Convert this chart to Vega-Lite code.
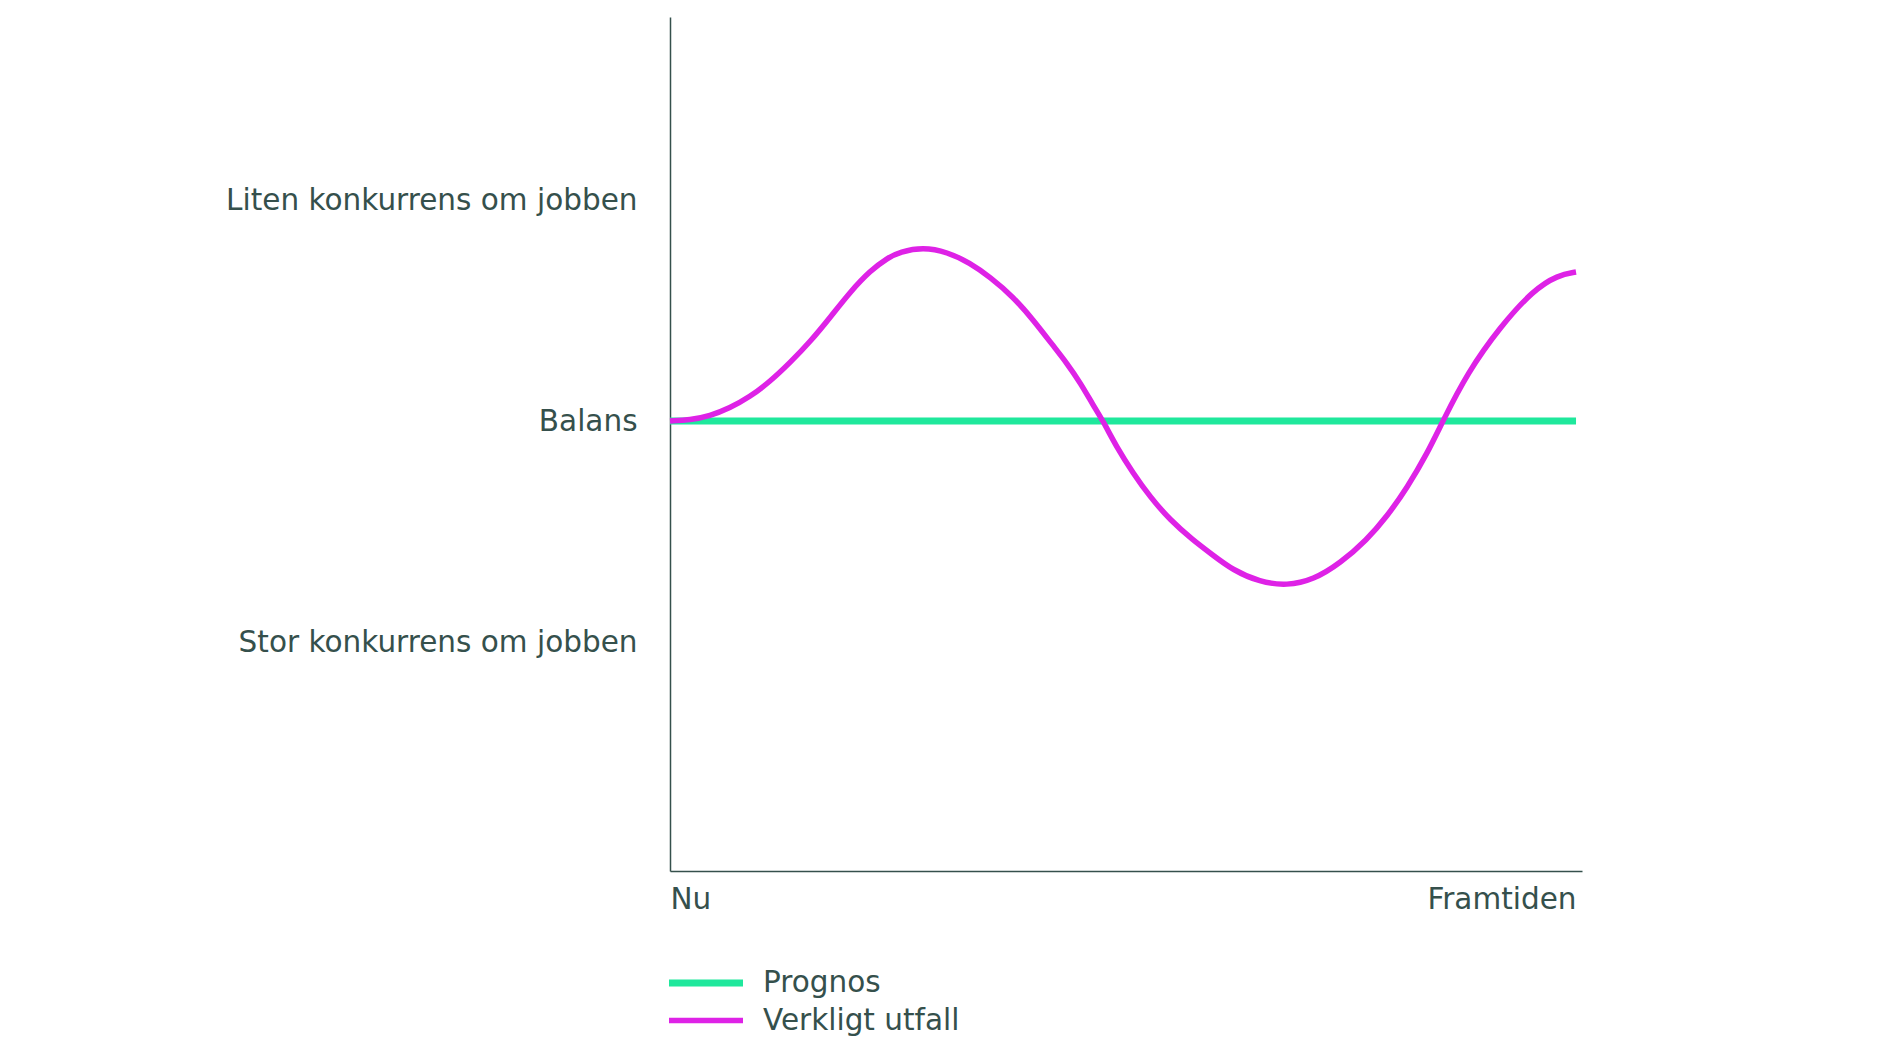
{
  "$schema": "https://vega.github.io/schema/vega-lite/v6.json",
  "description": "Prognos vs verkligt utfall, konkurrens om jobben",
  "autosize": "none",
  "padding": {"left": 670, "top": 17, "right": 305, "bottom": 190},
  "width": 912,
  "height": 854,
  "background": "white",
  "config": {
    "font": "DejaVu Sans",
    "view": {"stroke": null},
    "axis": {
      "grid": false,
      "ticks": false,
      "domainColor": "#35504c",
      "domainWidth": 1.5,
      "labelColor": "#35504c",
      "labelFont": "DejaVu Sans",
      "labelFontSize": 29.5,
      "labelLimit": 0,
      "title": null
    },
    "legend": {
      "labelColor": "#35504c",
      "labelFont": "DejaVu Sans",
      "labelFontSize": 29.5,
      "labelLimit": 0
    }
  },
  "data": {
    "values": [
      {"serie": "Prognos", "t": 0, "v": 0},
      {"serie": "Prognos", "t": 100, "v": 0},
      {"serie": "Verkligt utfall", "t": 0, "v": 0},
      {"serie": "Verkligt utfall", "t": 2.2, "v": 0.005},
      {"serie": "Verkligt utfall", "t": 4.4, "v": 0.023},
      {"serie": "Verkligt utfall", "t": 6.6, "v": 0.059},
      {"serie": "Verkligt utfall", "t": 8.8, "v": 0.109},
      {"serie": "Verkligt utfall", "t": 11.0, "v": 0.177},
      {"serie": "Verkligt utfall", "t": 13.2, "v": 0.262},
      {"serie": "Verkligt utfall", "t": 15.5, "v": 0.36},
      {"serie": "Verkligt utfall", "t": 17.7, "v": 0.47},
      {"serie": "Verkligt utfall", "t": 19.9, "v": 0.585},
      {"serie": "Verkligt utfall", "t": 22.1, "v": 0.68},
      {"serie": "Verkligt utfall", "t": 24.0, "v": 0.738},
      {"serie": "Verkligt utfall", "t": 25.4, "v": 0.765},
      {"serie": "Verkligt utfall", "t": 27.9, "v": 0.786},
      {"serie": "Verkligt utfall", "t": 30.6, "v": 0.765},
      {"serie": "Verkligt utfall", "t": 33.1, "v": 0.715},
      {"serie": "Verkligt utfall", "t": 35.3, "v": 0.652},
      {"serie": "Verkligt utfall", "t": 37.9, "v": 0.561},
      {"serie": "Verkligt utfall", "t": 40.1, "v": 0.457},
      {"serie": "Verkligt utfall", "t": 42.3, "v": 0.34},
      {"serie": "Verkligt utfall", "t": 43.8, "v": 0.262},
      {"serie": "Verkligt utfall", "t": 45.3, "v": 0.172},
      {"serie": "Verkligt utfall", "t": 46.7, "v": 0.072},
      {"serie": "Verkligt utfall", "t": 47.8, "v": 0},
      {"serie": "Verkligt utfall", "t": 49.3, "v": -0.118},
      {"serie": "Verkligt utfall", "t": 51.1, "v": -0.235},
      {"serie": "Verkligt utfall", "t": 53.0, "v": -0.344},
      {"serie": "Verkligt utfall", "t": 55.2, "v": -0.448},
      {"serie": "Verkligt utfall", "t": 57.7, "v": -0.538},
      {"serie": "Verkligt utfall", "t": 59.9, "v": -0.606},
      {"serie": "Verkligt utfall", "t": 62.1, "v": -0.674},
      {"serie": "Verkligt utfall", "t": 65.1, "v": -0.729},
      {"serie": "Verkligt utfall", "t": 68.1, "v": -0.745},
      {"serie": "Verkligt utfall", "t": 71.0, "v": -0.719},
      {"serie": "Verkligt utfall", "t": 74.0, "v": -0.643},
      {"serie": "Verkligt utfall", "t": 76.9, "v": -0.538},
      {"serie": "Verkligt utfall", "t": 79.1, "v": -0.434},
      {"serie": "Verkligt utfall", "t": 81.4, "v": -0.299},
      {"serie": "Verkligt utfall", "t": 83.6, "v": -0.145},
      {"serie": "Verkligt utfall", "t": 85.3, "v": 0},
      {"serie": "Verkligt utfall", "t": 88.0, "v": 0.217},
      {"serie": "Verkligt utfall", "t": 91.6, "v": 0.425},
      {"serie": "Verkligt utfall", "t": 95.3, "v": 0.593},
      {"serie": "Verkligt utfall", "t": 98.0, "v": 0.66},
      {"serie": "Verkligt utfall", "t": 100, "v": 0.674}
    ]
  },
  "mark": {"type": "line", "interpolate": "basis", "strokeCap": "butt"},
  "encoding": {
    "x": {
      "field": "t",
      "type": "quantitative",
      "scale": {"domain": [0, 100.66], "nice": false, "zero": false},
      "axis": {
        "values": [0, 100],
        "labelExpr": "datum.value == 0 ? 'Nu' : 'Framtiden'",
        "labelAlign": {"expr": "datum.value == 0 ? 'left' : 'right'"},
        "labelBaseline": "top",
        "labelPadding": 14,
        "labelFlush": false,
        "labelOverlap": false
      }
    },
    "y": {
      "field": "v",
      "type": "quantitative",
      "scale": {"domain": [-2.036, 1.828], "nice": false, "zero": false},
      "axis": {
        "values": [-1, 0, 1],
        "labelExpr": "datum.value == 1 ? 'Liten konkurrens om jobben' : datum.value == 0 ? 'Balans' : 'Stor konkurrens om jobben'",
        "labelPadding": 33,
        "labelBaseline": "middle"
      }
    },
    "color": {
      "field": "serie",
      "type": "nominal",
      "scale": {
        "domain": ["Prognos", "Verkligt utfall"],
        "range": ["#1fe89c", "#de22e6"]
      },
      "legend": {
        "title": null,
        "orient": "none",
        "legendX": 14,
        "legendY": 944,
        "direction": "vertical",
        "symbolType": "M-2,0H2",
        "symbolSize": 1369,
        "symbolStrokeWidth": 7,
        "symbolFillColor": "transparent",
        "labelOffset": 35,
        "rowPadding": 1
      }
    },
    "strokeWidth": {
      "field": "serie",
      "type": "nominal",
      "scale": {"domain": ["Prognos", "Verkligt utfall"], "range": [7, 5.5]},
      "legend": null
    }
  }
}
